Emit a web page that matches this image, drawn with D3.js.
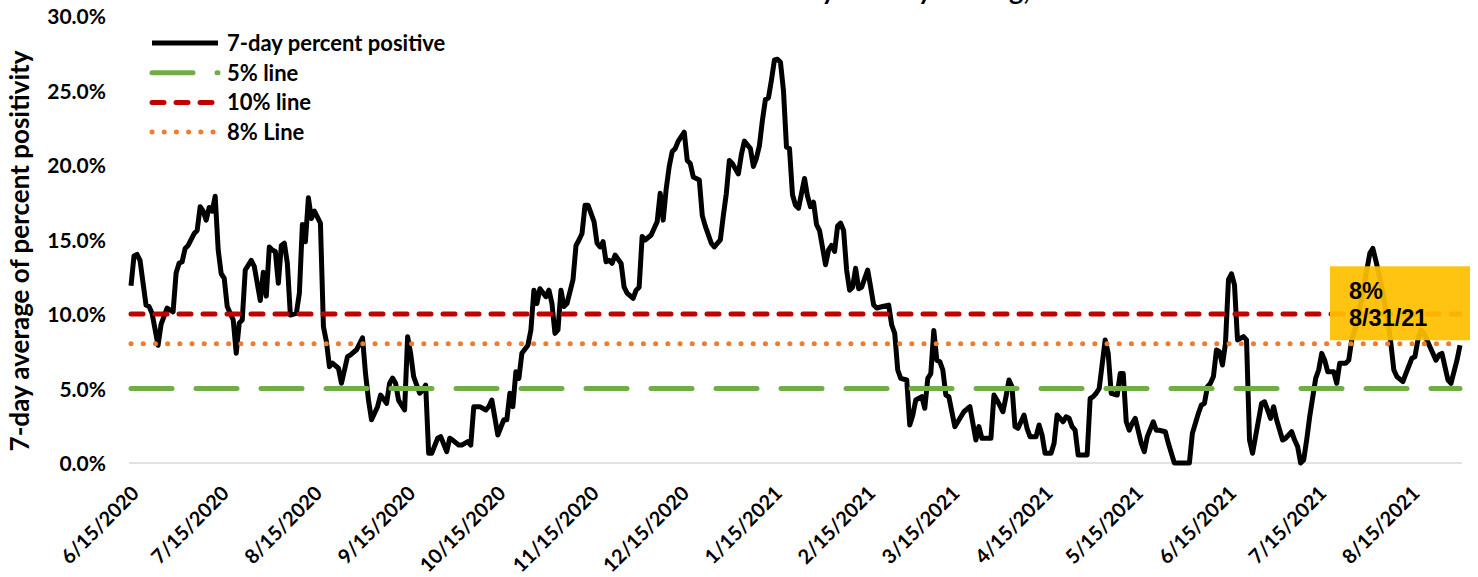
<!DOCTYPE html>
<html>
<head>
<meta charset="utf-8">
<script src="https://cdn.jsdelivr.net/npm/d3@7"></script>
<style>
  body { margin: 0; background: #fff; }
  text { font-family: Lato, "Open Sans", sans-serif; font-weight: bold; fill: #000; }
</style>
</head>
<body>
<div id="chart"></div>
<script>
// Data: days since 6/15/2020 and 7-day percent positive
const startDay = "6/15/2020";
const dayOffsets = [
  0, 1, 2, 3, 5, 6, 7, 9, 10, 12, 14, 15, 16, 17, 18, 19, 21, 22, 23, 24, 25, 26, 27, 28, 29, 30,
  31, 32, 34, 35, 36, 37, 38, 40, 41, 43, 44, 45, 46, 47, 48, 49, 50, 51, 52, 53, 55, 56, 57, 58,
  59, 60, 61, 62, 63, 64, 65, 66, 67, 69, 70, 72, 73, 75, 77, 78, 79, 80, 82, 83, 85, 86, 87, 88,
  89, 91, 92, 93, 94, 96, 97, 98, 99, 100, 102, 103, 105, 106, 107, 109, 110, 112, 113, 114, 116,
  118, 119, 120, 122, 123, 124, 125, 126, 127, 128, 129, 130, 132, 133, 134, 135, 136, 138, 139,
  140, 141, 142, 143, 144, 145, 147, 148, 149, 150, 151, 152, 154, 155, 156, 157, 158, 159, 160,
  161, 163, 164, 165, 167, 168, 169, 170, 171, 173, 174, 175, 176, 177, 178, 179, 180, 181, 182,
  184, 185, 186, 187, 189, 190, 191, 193, 194, 196, 197, 198, 199, 200, 202, 203, 204, 206, 207,
  208, 209, 210, 211, 212, 213, 214, 215, 216, 217, 218, 219, 220, 221, 222, 224, 225, 226, 227,
  228, 229, 231, 232, 233, 234, 235, 236, 237, 238, 239, 240, 241, 242, 243, 245, 246, 247, 248,
  250, 252, 253, 254, 255, 256, 258, 259, 260, 261, 263, 264, 265, 266, 267, 268, 269, 270, 271,
  272, 274, 275, 277, 279, 280, 281, 282, 283, 286, 287, 288, 290, 291, 292, 293, 294, 295, 297,
  298, 299, 301, 302, 303, 304, 306, 307, 308, 310, 311, 312, 313, 314, 315, 318, 319, 320, 321,
  322, 324, 325, 326, 328, 329, 330, 331, 332, 333, 334, 336, 337, 338, 340, 341, 342, 344, 345,
  347, 352, 353, 355, 356, 357, 358, 359, 360, 361, 362, 363, 364, 365, 366, 367, 368, 369, 370,
  371, 372, 373, 374, 376, 377, 378, 379, 380, 381, 383, 384, 386, 387, 388, 389, 390, 391, 392,
  394, 395, 396, 397, 398, 400, 401, 402, 404, 405, 406, 408, 410, 412, 413, 414, 416, 418, 419,
  420, 421, 423, 424, 426, 427, 428, 429, 430, 432, 434, 435, 436, 437, 438, 439, 441, 442
];
const positivity = [
  11.9, 13.9, 14.0, 13.6, 10.6, 10.5, 10.05, 7.9, 9.3, 10.4, 10.15, 12.75, 13.4, 13.5, 14.4, 14.6,
  15.4, 15.6, 17.2, 16.9, 16.3, 17.15, 16.9, 17.9, 14.3, 12.7,
  12.4, 10.5, 9.6, 7.36, 9.4, 9.6, 12.95, 13.6, 13.2, 10.9, 12.8, 11.2, 14.5, 14.3, 14.2, 12.06,
  14.6, 14.75, 13.4, 9.93, 10.05, 11.4, 16.0, 14.85,
  17.8, 16.4, 16.9, 16.5, 16.1, 9.15, 8.14, 6.46, 6.7, 6.36, 5.35, 7.13, 7.25, 7.6, 8.4, 6.0, 4.2,
  2.9, 3.78, 4.56, 4.0, 5.35, 5.7, 5.35,
  4.2, 3.56, 8.48, 7.36, 5.8, 4.68, 4.9, 5.23, 0.65, 0.65, 1.66, 1.77, 0.76, 1.66, 1.54, 1.2, 1.2,
  1.43, 1.2, 3.78, 3.78,
  3.56, 3.78, 4.23, 1.88, 2.4, 2.9, 2.9, 4.68, 3.78, 6.13, 5.68, 7.36, 7.9, 8.93, 11.6, 10.7, 11.7,
  11.16, 11.6,
  10.7, 8.7, 8.93, 11.6, 10.5, 10.7, 12.3, 14.6, 14.97, 15.4, 17.3, 17.3, 16.2, 14.75, 14.5, 14.85,
  13.5, 13.6, 13.4,
  13.96, 13.4, 11.8, 11.4, 11.05, 11.6, 11.8, 15.2, 14.97, 15.3, 15.75, 16.2, 18.1, 16.3, 18.4,
  19.9, 20.9, 21.1, 21.6,
  22.2, 20.3, 20.1, 19.2, 19.0, 16.6, 15.9, 14.75, 14.5, 14.97, 16.6, 18.1, 20.3, 20.1, 19.4, 20.7,
  21.6, 21.1, 19.9,
  20.45, 21.3, 23.0, 24.4, 24.5, 25.7, 27.05, 27.1, 26.9, 25.0, 21.2, 21.1, 18.0, 17.3, 17.1, 19.1,
  17.9, 17.2, 17.5,
  16.0, 15.6, 13.3, 14.3, 14.6, 14.2, 15.9, 16.1, 15.6, 12.95, 11.6, 11.8, 13.07, 11.7, 11.8, 12.95,
  11.8, 10.6, 10.4,
  10.5, 10.6, 9.26, 8.7, 6.24, 5.68, 5.57, 2.55, 3.2, 4.23, 4.45, 3.67, 5.68, 6.0, 8.9, 6.9, 6.8,
  6.24, 4.56,
  4.45, 2.44, 2.77, 3.44, 3.78, 2.66, 1.54, 2.44, 1.66, 1.66, 4.56, 4.23, 3.44, 4.45, 5.57, 5.12,
  2.44, 2.33, 3.22,
  2.33, 1.77, 1.77, 2.55, 1.88, 0.65, 0.65, 1.32, 3.22, 2.77, 3.1, 3.0, 2.44, 2.2, 0.54, 0.54, 4.34,
  4.45, 4.68,
  5.0, 8.26, 7.36, 4.68, 4.56, 6.0, 6.0, 2.77, 2.2, 2.66, 3.0, 1.32, 0.76, 1.77, 2.77, 2.2, 2.2,
  2.1, 1.32,
  0, 0, 2.0, 3.34, 3.9, 4.0, 5.12, 5.35, 5.8, 7.58, 7.47, 6.58, 8.03, 12.3, 12.7, 11.95, 8.26, 8.37,
  8.48,
  8.26, 1.54, 0.65, 1.77, 4.0, 4.11, 3.56, 3.0, 3.78, 2.9, 1.54, 1.66, 2.1, 1.54, 1.1, 0, 0.2, 1.54,
  3.1,
  5.68, 6.24, 7.36, 6.9, 6.13, 6.13, 5.35, 6.7, 6.7, 6.9, 8.26, 9.6, 11.8, 14.07, 14.4, 13.6, 11.8,
  9.6, 8.03,
  6.24, 5.8, 5.46, 6.0, 7.03, 7.13, 8.26, 8.93, 8.7, 7.8, 6.9, 7.25, 7.36, 6.46, 5.57, 5.35, 6.9, 7.9
];

// Axis ticks
const xTickLabels = [
  "6/15/2020", "7/15/2020", "8/15/2020", "9/15/2020", "10/15/2020", "11/15/2020", "12/15/2020",
  "1/15/2021", "2/15/2021", "3/15/2021", "4/15/2021", "5/15/2021", "6/15/2021", "7/15/2021", "8/15/2021"
];
const yTicks = [0, 5, 10, 15, 20, 25, 30];

// Reference lines (in legend order after the main series)
const refNames = ["5% line", "10% line", "8% Line"];
const refValues = [5, 10, 8];
const seriesName = "7-day percent positive";

const titleText = "Percent Positivity Rate by Testing, 2020\u20132021";
const yTitle = "7-day average of percent positivity";

// Set up dimensions
const width = 1478;
const height = 577;
const margin = { top: 16, right: 18, bottom: 114, left: 131 };

const svg = d3.select("#chart")
    .append("svg")
    .attr("width", width)
    .attr("height", height)
    .style("display", "block");

const parse = d3.timeParse("%m/%d/%Y");
const start = parse(startDay);
const data = dayOffsets.map((d, i) => ({ date: d3.timeDay.offset(start, d), value: positivity[i] }));
const lastDate = data[data.length - 1].date;

const x = d3.scaleTime()
    .domain([start, lastDate])
    .range([margin.left, width - margin.right]);

const y = d3.scaleLinear()
    .domain([0, 30])
    .range([height - margin.bottom, margin.top]);

// Title (only its descenders show, the rest is above the picture edge)
const title = svg.append("text")
    .attr("y", -0.5)
    .style("font-size", "27px")
    .text(titleText);
const tNode = title.node();
const yi = titleText.indexOf("y");
title.attr("x", 828 - tNode.getSubStringLength(0, yi) - tNode.getSubStringLength(yi, 1) / 2);

// Baseline gridline
svg.append("line")
    .attr("x1", margin.left - 2)
    .attr("x2", width - margin.right + 2)
    .attr("y1", y(0))
    .attr("y2", y(0))
    .attr("stroke", "#d9d9d9")
    .attr("stroke-width", 1.5);

// Y axis labels
const yAxis = d3.axisLeft(y)
    .tickValues(yTicks)
    .tickSize(0)
    .tickPadding(0)
    .tickFormat(d => d3.format(".1f")(d) + "%");

svg.append("g")
    .attr("transform", "translate(106,0)")
    .call(yAxis)
    .call(g => g.select(".domain").remove())
    .selectAll("text")
    .attr("dy", "0.36em")
    .style("font-size", "21px")
    .style("font-family", "Lato, sans-serif");

// X axis labels
const xAxis = d3.axisBottom(x)
    .tickValues(xTickLabels.map(parse))
    .tickSize(0)
    .tickFormat(d3.timeFormat("%-m/%-d/%Y"));

svg.append("g")
    .attr("transform", `translate(0,${y(0)})`)
    .call(xAxis)
    .call(g => g.select(".domain").remove())
    .selectAll("text")
    .attr("y", 0)
    .attr("dy", "0.75em")
    .attr("text-anchor", "end")
    .attr("transform", "translate(-2,21) rotate(-45)")
    .style("font-size", "20px")
    .style("font-family", "Lato, sans-serif");

// Y axis title
svg.append("text")
    .attr("transform", `translate(29,${251}) rotate(-90)`)
    .attr("text-anchor", "middle")
    .style("font-size", "26px")
    .text(yTitle);

// Main series
const line = d3.line()
    .x(d => x(d.date))
    .y(d => y(d.value));

svg.append("path")
    .datum(data)
    .attr("fill", "none")
    .attr("stroke", "#000")
    .attr("stroke-width", 5)
    .attr("stroke-linejoin", "round")
    .attr("d", line);

// Reference line styles
const refStyles = [
    { color: "#70ad47", dash: "41,24" },
    { color: "#c00000", dash: "12,12" },
    { color: "#ed7d31", dash: "0.1,12.1" }
];

refValues.forEach((v, i) => {
    svg.append("line")
        .attr("x1", x(start))
        .attr("x2", x(lastDate))
        .attr("y1", y(v))
        .attr("y2", y(v))
        .attr("stroke", refStyles[i].color)
        .attr("stroke-width", 5)
        .attr("stroke-linecap", "round")
        .attr("stroke-dasharray", refStyles[i].dash);
});

// Legend
const legendItems = [{ name: seriesName, color: "#000", dash: null }]
    .concat(refNames.map((n, i) => ({ name: n, color: refStyles[i].color, dash: refStyles[i].dash })));

const legend = svg.append("g")
    .attr("transform", "translate(152,43)");

legendItems.forEach((d, i) => {
    const row = legend.append("g").attr("transform", `translate(0,${i * 29.7})`);
    row.append("line")
        .attr("x1", 0)
        .attr("x2", 66)
        .attr("stroke", d.color)
        .attr("stroke-width", 5)
        .attr("stroke-linecap", d.dash ? "round" : "butt")
        .attr("stroke-dasharray", d.dash);
    row.append("text")
        .attr("x", 75)
        .attr("dy", "0.36em")
        .style("font-size", "22px")
        .text(d.name);
});

// Last value annotation
const last = data[data.length - 1];
const lx = x(last.date);
const ly = y(last.value);
const note = svg.append("g")
    .attr("transform", `translate(${lx - 130},${ly - 79})`);
note.append("rect")
    .attr("width", 140)
    .attr("height", 74)
    .attr("fill", "#ffc000")
    .attr("fill-opacity", 0.93);
note.append("text")
    .attr("x", 19)
    .attr("y", 33)
    .style("font-family", "'Liberation Sans', Arial, sans-serif")
    .style("font-size", "23.5px")
    .text(Math.round(last.value) + "%");
note.append("text")
    .attr("x", 19)
    .attr("y", 60)
    .style("font-family", "'Liberation Sans', Arial, sans-serif")
    .style("font-size", "23.5px")
    .text(d3.timeFormat("%-m/%d/%y")(last.date));
</script>
</body>
</html>
